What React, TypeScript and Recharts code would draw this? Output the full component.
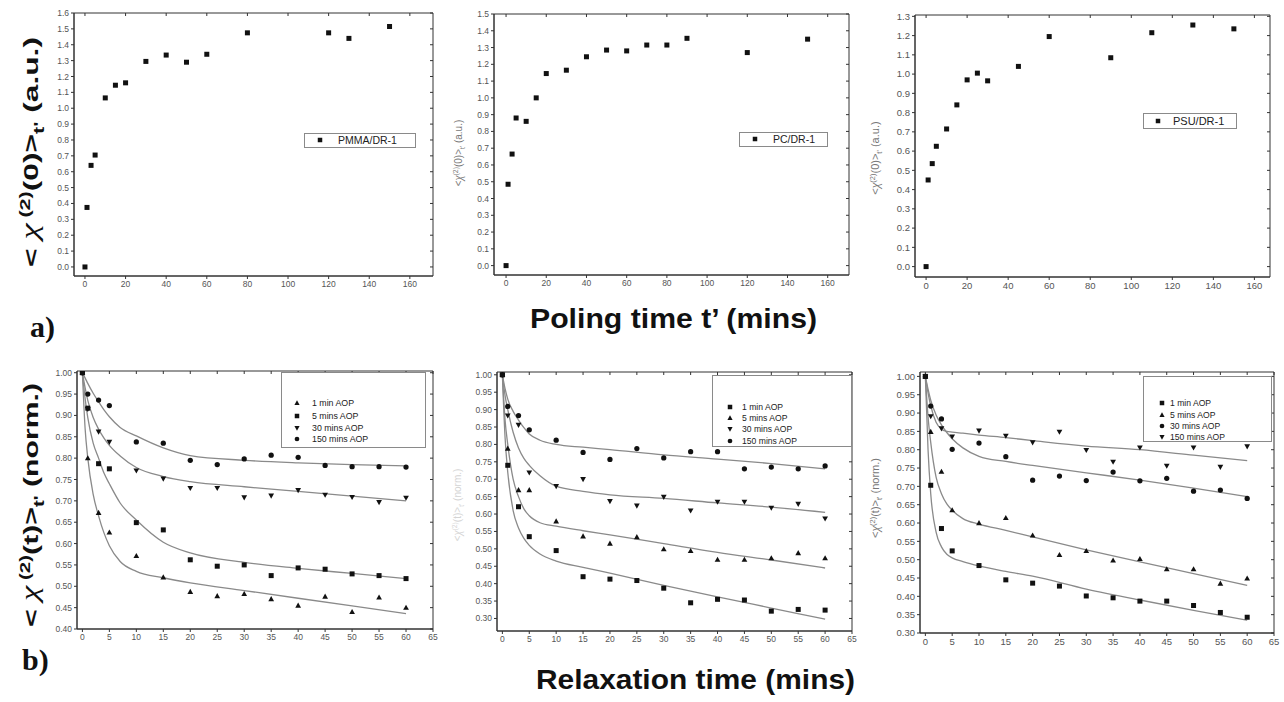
import React from 'react';
import { ComposedChart, Scatter, Line, XAxis, YAxis, ReferenceArea } from 'recharts';

// ---- top row: SHG vs poling time ----
const poleTimesPMMA = [0, 1, 3, 5, 10, 15, 20, 30, 40, 50, 60, 80, 120, 130, 150];
const chiPMMA = [0, 0.375, 0.64, 0.705, 1.065, 1.145, 1.16, 1.295, 1.335, 1.29, 1.34, 1.475, 1.475, 1.44, 1.515];
const poleTimesPC = [0, 1, 3, 5, 10, 15, 20, 30, 40, 50, 60, 70, 80, 90, 120, 150];
const chiPC = [0, 0.485, 0.665, 0.88, 0.86, 1.0, 1.145, 1.165, 1.245, 1.285, 1.28, 1.315, 1.315, 1.355, 1.27, 1.35];
const poleTimesPSU = [0, 1, 3, 5, 10, 15, 20, 25, 30, 45, 60, 90, 110, 130, 150];
const chiPSU = [0, 0.45, 0.535, 0.625, 0.715, 0.84, 0.97, 1.005, 0.965, 1.04, 1.195, 1.085, 1.215, 1.255, 1.235];

const polingTicks = [0, 20, 40, 60, 80, 100, 120, 140, 160];
const ticksPMMA = [0, 0.1, 0.2, 0.3, 0.4, 0.5, 0.6, 0.7, 0.8, 0.9, 1.0, 1.1, 1.2, 1.3, 1.4, 1.5, 1.6];
const ticksPC = [0, 0.1, 0.2, 0.3, 0.4, 0.5, 0.6, 0.7, 0.8, 0.9, 1.0, 1.1, 1.2, 1.3, 1.4, 1.5];
const ticksPSU = [0, 0.1, 0.2, 0.3, 0.4, 0.5, 0.6, 0.7, 0.8, 0.9, 1.0, 1.1, 1.2, 1.3];

// ---- bottom row: relaxation after poling ----
const relaxTimes = [0, 1, 3, 5, 10, 15, 20, 25, 30, 35, 40, 45, 50, 55, 60];
const pmma1 = [1.0, 0.8, 0.672, 0.626, 0.571, 0.521, 0.487, 0.477, 0.482, 0.47, 0.455, 0.476, 0.44, 0.474, 0.45];
const pmma5 = [1.0, 0.917, 0.787, 0.775, 0.649, 0.632, 0.562, 0.547, 0.55, 0.525, 0.543, 0.54, 0.529, 0.525, 0.518];
const pmma30 = [1.0, 0.915, 0.862, 0.838, 0.771, 0.752, 0.73, 0.73, 0.708, 0.712, 0.725, 0.714, 0.709, 0.697, 0.707];
const pmma150 = [1.0, 0.95, 0.936, 0.923, 0.838, 0.835, 0.795, 0.785, 0.798, 0.807, 0.802, 0.783, 0.78, 0.78, 0.779];

const pc1 = [1.0, 0.74, 0.621, 0.535, 0.495, 0.42, 0.413, 0.409, 0.387, 0.345, 0.355, 0.353, 0.321, 0.326, 0.324];
const pc5 = [1.0, 0.788, 0.669, 0.669, 0.579, 0.536, 0.515, 0.534, 0.499, 0.494, 0.469, 0.469, 0.473, 0.488, 0.473];
const pc30 = [1.0, 0.883, 0.856, 0.719, 0.68, 0.7, 0.637, 0.624, 0.649, 0.61, 0.635, 0.635, 0.618, 0.629, 0.587];
const pc150 = [1.0, 0.909, 0.883, 0.842, 0.812, 0.777, 0.757, 0.788, 0.761, 0.779, 0.779, 0.73, 0.735, 0.73, 0.738];

const psu1 = [1.0, 0.703, 0.585, 0.524, 0.484, 0.445, 0.436, 0.428, 0.401, 0.396, 0.387, 0.387, 0.375, 0.356, 0.343];
const psu5 = [1.0, 0.849, 0.74, 0.635, 0.6, 0.614, 0.566, 0.513, 0.524, 0.498, 0.502, 0.474, 0.474, 0.435, 0.449];
const psu30 = [1.0, 0.919, 0.884, 0.801, 0.818, 0.781, 0.717, 0.728, 0.716, 0.739, 0.715, 0.722, 0.687, 0.69, 0.667];
const psu150 = [1.0, 0.891, 0.858, 0.836, 0.852, 0.838, 0.82, 0.849, 0.799, 0.767, 0.806, 0.756, 0.806, 0.753, 0.809];

// fitted curves at these times
const fitTimes = [0, 0.5, 1, 2, 3, 4, 5, 7, 10, 15, 20, 30, 40, 50, 60];
const fitPmma1 = [1, 0.87, 0.8, 0.715, 0.665, 0.625, 0.595, 0.558, 0.535, 0.52, 0.508, 0.49, 0.472, 0.454, 0.436];
const fitPmma5 = [1, 0.94, 0.895, 0.835, 0.8, 0.765, 0.74, 0.695, 0.655, 0.603, 0.578, 0.556, 0.542, 0.53, 0.518];
const fitPmma30 = [1, 0.965, 0.935, 0.895, 0.868, 0.847, 0.83, 0.805, 0.778, 0.757, 0.745, 0.733, 0.722, 0.711, 0.7];
const fitPmma150 = [1, 0.988, 0.975, 0.952, 0.932, 0.913, 0.897, 0.872, 0.852, 0.824, 0.806, 0.795, 0.789, 0.785, 0.782];

const fitPc1 = [1, 0.82, 0.72, 0.61, 0.56, 0.53, 0.51, 0.485, 0.465, 0.447, 0.43, 0.395, 0.362, 0.33, 0.298];
const fitPc5 = [1, 0.87, 0.8, 0.7, 0.65, 0.615, 0.595, 0.575, 0.565, 0.552, 0.54, 0.515, 0.49, 0.468, 0.445];
const fitPc30 = [1, 0.94, 0.9, 0.835, 0.79, 0.76, 0.74, 0.71, 0.68, 0.665, 0.655, 0.645, 0.632, 0.62, 0.605];
const fitPc150 = [1, 0.96, 0.93, 0.895, 0.87, 0.848, 0.83, 0.812, 0.8, 0.792, 0.785, 0.77, 0.758, 0.745, 0.73];

const fitPsu1 = [1, 0.8, 0.68, 0.575, 0.535, 0.515, 0.505, 0.495, 0.483, 0.468, 0.455, 0.42, 0.39, 0.362, 0.335];
const fitPsu5 = [1, 0.89, 0.82, 0.725, 0.68, 0.652, 0.635, 0.612, 0.597, 0.58, 0.562, 0.527, 0.494, 0.462, 0.43];
const fitPsu30 = [1, 0.965, 0.935, 0.895, 0.868, 0.847, 0.83, 0.805, 0.782, 0.768, 0.757, 0.737, 0.717, 0.695, 0.672];
const fitPsu150 = [1, 0.955, 0.92, 0.875, 0.856, 0.85, 0.848, 0.845, 0.84, 0.833, 0.825, 0.81, 0.8, 0.785, 0.77];

const relaxTicks = [0, 5, 10, 15, 20, 25, 30, 35, 40, 45, 50, 55, 60, 65];
const normTicksPMMA = [0.4, 0.45, 0.5, 0.55, 0.6, 0.65, 0.7, 0.75, 0.8, 0.85, 0.9, 0.95, 1.0];
const normTicks = [0.3, 0.35, 0.4, 0.45, 0.5, 0.55, 0.6, 0.65, 0.7, 0.75, 0.8, 0.85, 0.9, 0.95, 1.0];

type Marker = 'square' | 'triangle' | 'down' | 'circle';

const zip = (xs: number[], ys: number[]) => xs.map((x, i) => ({ x, y: ys[i] }));

const drawMarker = (kind: Marker, cx: number, cy: number, s: number) => {
  const h = s / 2;
  if (kind === 'square') return <rect x={cx - h} y={cy - h} width={s} height={s} fill="#111" />;
  if (kind === 'triangle')
    return <polygon points={`${cx},${cy - h * 1.2} ${cx + h * 1.15},${cy + h * 0.85} ${cx - h * 1.15},${cy + h * 0.85}`} fill="#111" />;
  if (kind === 'down')
    return <polygon points={`${cx},${cy + h * 1.2} ${cx + h * 1.15},${cy - h * 0.85} ${cx - h * 1.15},${cy - h * 0.85}`} fill="#111" />;
  return <circle cx={cx} cy={cy} r={h * 1.05} fill="#111" />;
};

interface SeriesDef {
  name: string;
  marker: Marker;
  pts: { x: number; y: number }[];
  fit?: { x: number; y: number }[];
}

interface LegendDef {
  x: number;
  y: number;
  w: number;
  h: number;
  rows: number[];
  markerX: number;
  textX: number;
  fontSize: number;
}

interface PanelDef {
  plot: { x: number; y: number; w: number; h: number };
  xDomain: [number, number];
  xTicks: number[];
  yDomain: [number, number];
  yTicks: number[];
  digits: number;
  markerSize: number;
  tickFont: number;
  series: SeriesDef[];
  legend: LegendDef;
}

const axisColor = '#333';

const Panel = ({ p }: { p: PanelDef }) => {
  const padL = 40;
  const padT = 10;
  const padR = 14;
  const padB = 26;
  const W = p.plot.w + padL + padR;
  const H = p.plot.h + padT + padB;
  const blank = () => '';
  return (
    <div style={{ position: 'absolute', left: p.plot.x - padL, top: p.plot.y - padT, width: W, height: H }}>
      <ComposedChart width={W} height={H} margin={{ top: padT - 1, right: padR - 1, bottom: 0, left: 0 }}>
        <XAxis
          xAxisId="b"
          dataKey="x"
          type="number"
          domain={p.xDomain}
          ticks={p.xTicks}
          interval={0}
          allowDataOverflow
          height={padB}
          tickSize={3}
          stroke={axisColor}
          tick={{ fontSize: p.tickFont, fill: '#555', fontFamily: 'Liberation Sans, Arial' }}
        />
        <XAxis
          xAxisId="t"
          orientation="top"
          dataKey="x"
          type="number"
          domain={p.xDomain}
          ticks={p.xTicks}
          interval={0}
          allowDataOverflow
          mirror
          height={1}
          tickSize={3}
          axisLine={false}
          stroke={axisColor}
          tickFormatter={blank}
        />
        <YAxis
          yAxisId="l"
          dataKey="y"
          type="number"
          domain={p.yDomain}
          ticks={p.yTicks}
          interval={0}
          allowDataOverflow
          width={padL}
          tickSize={3}
          stroke={axisColor}
          tickFormatter={(v: number) => v.toFixed(p.digits)}
          tick={{ fontSize: p.tickFont, fill: '#555', fontFamily: 'Liberation Sans, Arial' }}
        />
        <YAxis
          yAxisId="r"
          orientation="right"
          dataKey="y"
          type="number"
          domain={p.yDomain}
          ticks={p.yTicks}
          interval={0}
          allowDataOverflow
          mirror
          width={1}
          tickSize={3}
          axisLine={false}
          stroke={axisColor}
          tickFormatter={blank}
        />
        <ReferenceArea
          xAxisId="b"
          yAxisId="l"
          x1={p.xDomain[0]}
          x2={p.xDomain[1]}
          y1={p.yDomain[0]}
          y2={p.yDomain[1]}
          ifOverflow="visible"
          fill="none"
          fillOpacity={0}
          stroke={axisColor}
          strokeWidth={1}
        />
        {p.series.map((s) =>
          s.fit ? (
            <Line
              key={s.name + '-fit'}
              xAxisId="b"
              yAxisId="l"
              data={s.fit}
              dataKey="y"
              type="monotone"
              stroke="#8a8a8a"
              strokeWidth={1.3}
              dot={false}
              activeDot={false}
              isAnimationActive={false}
            />
          ) : null
        )}
        {p.series.map((s) => (
          <Scatter
            key={s.name}
            xAxisId="b"
            yAxisId="l"
            name={s.name}
            data={s.pts}
            dataKey="y"
            isAnimationActive={false}
            shape={(props: any) => drawMarker(s.marker, props.cx, props.cy, p.markerSize)}
          />
        ))}
      </ComposedChart>
    </div>
  );
};

const LegendBox = ({ p }: { p: PanelDef }) => {
  const l = p.legend;
  return (
    <svg style={{ position: 'absolute', left: l.x, top: l.y }} width={l.w + 1} height={l.h + 1}>
      <rect x={0.5} y={0.5} width={l.w} height={l.h} fill="#fff" stroke="#8a8a8a" />
      {p.series.map((s, i) => (
        <g key={s.name}>
          {drawMarker(s.marker, l.markerX - l.x, l.rows[i] - l.y, p.markerSize - 0.5)}
          <text
            x={l.textX - l.x}
            y={l.rows[i] - l.y + l.fontSize * 0.36}
            fontSize={l.fontSize}
            fontFamily="Liberation Sans, Arial"
            fill="#222"
          >
            {s.name}
          </text>
        </g>
      ))}
    </svg>
  );
};

const panels: PanelDef[] = [
  {
    plot: { x: 74, y: 14, w: 358, h: 262 },
    xDomain: [-5.4, 171.4],
    xTicks: polingTicks,
    yDomain: [-0.057, 1.6],
    yTicks: ticksPMMA,
    digits: 1,
    markerSize: 5,
    tickFont: 8.5,
    series: [{ name: 'PMMA/DR-1', marker: 'square', pts: zip(poleTimesPMMA, chiPMMA) }],
    legend: { x: 304, y: 133, w: 111, h: 14, rows: [140], markerX: 320, textX: 338, fontSize: 10.5 },
  },
  {
    plot: { x: 494, y: 15, w: 354, h: 260 },
    xDomain: [-6, 170.6],
    xTicks: polingTicks,
    yDomain: [-0.056, 1.5],
    yTicks: ticksPC,
    digits: 1,
    markerSize: 5,
    tickFont: 8.5,
    series: [{ name: 'PC/DR-1', marker: 'square', pts: zip(poleTimesPC, chiPC) }],
    legend: { x: 739, y: 132, w: 88, h: 14, rows: [139], markerX: 755, textX: 773, fontSize: 10.5 },
  },
  {
    plot: { x: 915, y: 16, w: 354, h: 261 },
    xDomain: [-5.4, 167.6],
    xTicks: polingTicks,
    yDomain: [-0.054, 1.307],
    yTicks: ticksPSU,
    digits: 1,
    markerSize: 5,
    tickFont: 9.5,
    series: [{ name: 'PSU/DR-1', marker: 'square', pts: zip(poleTimesPSU, chiPSU) }],
    legend: { x: 1143, y: 113, w: 93, h: 15, rows: [121], markerX: 1158, textX: 1173, fontSize: 11 },
  },
  {
    plot: { x: 77, y: 372, w: 355, h: 257 },
    xDomain: [-1, 65],
    xTicks: relaxTicks,
    yDomain: [0.4, 1.004],
    yTicks: normTicksPMMA,
    digits: 2,
    markerSize: 5,
    tickFont: 8.5,
    series: [
      { name: '1 min AOP', marker: 'triangle', pts: zip(relaxTimes, pmma1), fit: zip(fitTimes, fitPmma1) },
      { name: '5 mins AOP', marker: 'square', pts: zip(relaxTimes, pmma5), fit: zip(fitTimes, fitPmma5) },
      { name: '30 mins AOP', marker: 'down', pts: zip(relaxTimes, pmma30), fit: zip(fitTimes, fitPmma30) },
      { name: '150 mins AOP', marker: 'circle', pts: zip(relaxTimes, pmma150), fit: zip(fitTimes, fitPmma150) },
    ],
    legend: { x: 281, y: 372, w: 144, h: 75, rows: [403, 416, 428, 439], markerX: 297, textX: 312, fontSize: 8.8 },
  },
  {
    plot: { x: 497, y: 373, w: 354, h: 258 },
    xDomain: [-1, 65],
    xTicks: relaxTicks,
    yDomain: [0.264, 1.008],
    yTicks: normTicks,
    digits: 2,
    markerSize: 5,
    tickFont: 8.5,
    series: [
      { name: '1 min AOP', marker: 'square', pts: zip(relaxTimes, pc1), fit: zip(fitTimes, fitPc1) },
      { name: '5 mins AOP', marker: 'triangle', pts: zip(relaxTimes, pc5), fit: zip(fitTimes, fitPc5) },
      { name: '30 mins AOP', marker: 'down', pts: zip(relaxTimes, pc30), fit: zip(fitTimes, fitPc30) },
      { name: '150 mins AOP', marker: 'circle', pts: zip(relaxTimes, pc150), fit: zip(fitTimes, fitPc150) },
    ],
    legend: { x: 712, y: 375, w: 139, h: 71, rows: [407, 418, 429, 441], markerX: 730, textX: 742, fontSize: 8.6 },
  },
  {
    plot: { x: 920, y: 373, w: 353, h: 260 },
    xDomain: [-1, 65],
    xTicks: relaxTicks,
    yDomain: [0.3, 1.012],
    yTicks: normTicks,
    digits: 2,
    markerSize: 5,
    tickFont: 9.5,
    series: [
      { name: '1 min AOP', marker: 'square', pts: zip(relaxTimes, psu1), fit: zip(fitTimes, fitPsu1) },
      { name: '5 mins AOP', marker: 'triangle', pts: zip(relaxTimes, psu5), fit: zip(fitTimes, fitPsu5) },
      { name: '30 mins AOP', marker: 'circle', pts: zip(relaxTimes, psu30), fit: zip(fitTimes, fitPsu30) },
      { name: '150 mins AOP', marker: 'down', pts: zip(relaxTimes, psu150), fit: zip(fitTimes, fitPsu150) },
    ],
    legend: { x: 1143, y: 376, w: 128, h: 65, rows: [403, 415, 426, 437], markerX: 1162, textX: 1170, fontSize: 8.6 },
  },
];

// rotated y label with superscript (2) and subscript t'
const ChiLabel = ({ x, y, size, arg, unit, color, bold, length }: any) => {
  const small = size * 0.68;
  return (
    <text
      transform={`translate(${x},${y}) rotate(-90)`}
      textAnchor="middle"
      fontFamily="Liberation Sans, Arial"
      fontWeight={bold ? 'bold' : 'normal'}
      fontSize={size}
      fill={color}
      textLength={length}
      lengthAdjust={length ? 'spacingAndGlyphs' : undefined}
    >
      <tspan>{bold ? '< ' : '<'}</tspan>
      <tspan fontFamily="Liberation Serif, Times New Roman" fontStyle="italic" fontWeight="normal" fontSize={size * 1.15}>
        χ
      </tspan>
      <tspan fontSize={small} dy={-size * 0.38}>{bold ? ' (2)' : '(2)'}</tspan>
      <tspan dy={size * 0.38}>{`(${arg})>`}</tspan>
      <tspan fontSize={small} dy={size * 0.28}>t'</tspan>
      <tspan dy={-size * 0.28}>{` (${unit})`}</tspan>
    </text>
  );
};

const App: React.FC = () => (
  <div style={{ position: 'absolute', left: 0, top: 0, width: 1284, height: 702, background: '#fff', overflow: 'hidden' }}>
    {panels.map((p, i) => (
      <Panel key={i} p={p} />
    ))}
    {panels.map((p, i) => (
      <LegendBox key={'lg' + i} p={p} />
    ))}
    <svg style={{ position: 'absolute', left: 0, top: 0, pointerEvents: 'none' }} width={1284} height={702}>
      <ChiLabel x={38} y={152} size={21} arg="0" unit="a.u." color="#111" bold length={230} />
      <ChiLabel x={38} y={505} size={21} arg="t" unit="norm." color="#111" bold length={244} />
      <ChiLabel x={462} y={153} size={10} arg="0" unit="a.u." color="#777" />
      <ChiLabel x={879} y={158} size={11} arg="0" unit="a.u." color="#777" />
      <ChiLabel x={461} y={505} size={10} arg="t" unit="norm." color="#d4d4d4" />
      <ChiLabel x={879} y={498} size={11} arg="t" unit="norm." color="#777" />
      <text x={30} y={337} fontFamily="Liberation Serif, Times New Roman" fontWeight="bold" fontSize={30} fill="#111">
        a)
      </text>
      <text x={22} y={670} fontFamily="Liberation Serif, Times New Roman" fontWeight="bold" fontSize={30} fill="#111">
        b)
      </text>
      <text
        x={530}
        y={328}
        textLength={287}
        lengthAdjust="spacingAndGlyphs"
        fontFamily="Liberation Sans, Arial"
        fontWeight="bold"
        fontSize={28}
        fill="#111"
      >
        Poling time t’ (mins)
      </text>
      <text
        x={536}
        y={689}
        textLength={319}
        lengthAdjust="spacingAndGlyphs"
        fontFamily="Liberation Sans, Arial"
        fontWeight="bold"
        fontSize={28}
        fill="#111"
      >
        Relaxation time (mins)
      </text>
    </svg>
  </div>
);

export default App;
